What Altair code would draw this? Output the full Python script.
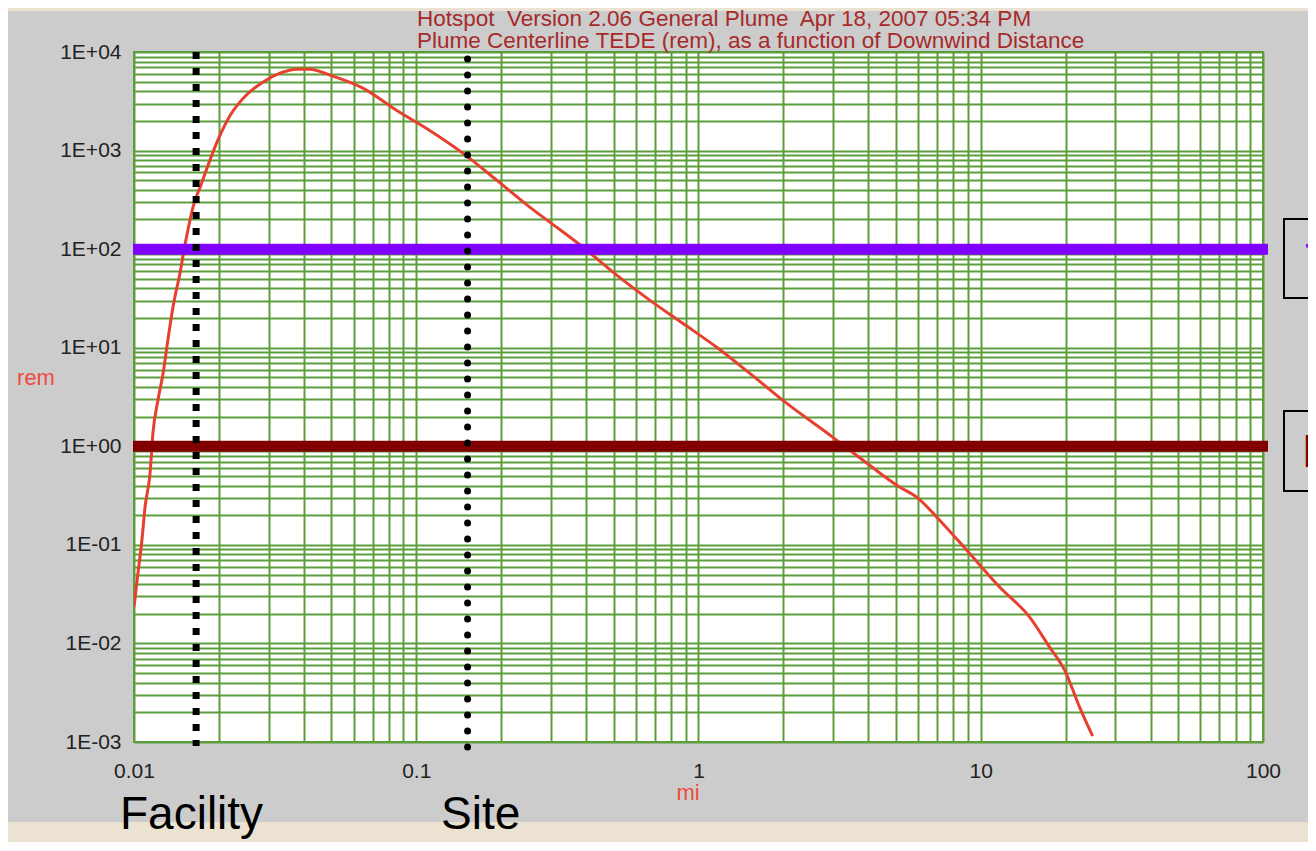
import json
import altair as alt
import pandas as pd

# ---- data ----
DIST_MI = [0.0100, 0.01033, 0.01067, 0.01094, 0.01140, 0.01167, 0.01216, 0.01268, 0.01318,
           0.01374, 0.01455, 0.01517, 0.01579, 0.01618, 0.01726, 0.01858, 0.01982, 0.02187,
           0.02512, 0.02862, 0.03290, 0.03778, 0.04198, 0.04943, 0.06471, 0.08534, 0.1116,
           0.1462, 0.1928, 0.2523, 0.2972, 0.3890, 0.5130, 0.6714, 0.8790, 1.160, 1.517,
           1.986, 2.985, 3.944, 5.157, 5.926, 7.150, 8.91, 11.66, 14.90, 17.53, 19.82,
           22.39, 24.90]
DOSE_REM = [0.0234, 0.0518, 0.112, 0.241, 0.535, 1.36, 2.94, 5.52, 11.9,
            25.8, 57.1, 112, 197, 267, 446, 800, 1274, 2250,
            3700, 4943, 6095, 6700, 6700, 5821, 4296, 2550, 1600,
            942, 501, 267, 188, 105, 54.5, 30.4, 17.7, 10.1, 5.52,
            2.94, 1.24, 0.676, 0.386, 0.305, 0.178, 0.0885, 0.0373, 0.0185, 0.00918, 0.00537,
            0.00226, 0.00115]

MARKER_NAMES = ["Facility", "Site"]
MARKER_DIST_MI = [0.0166, 0.152]

THRESHOLD_NAMES = ["T", "P"]
THRESHOLD_REM = [100, 1]
THRESHOLD_COLORS = ["#8000ff", "#800000"]

TITLE_LINES = ["Hotspot\u00a0 Version 2.06 General Plume\u00a0 Apr 18, 2007 05:34 PM",
               "Plume Centerline TEDE (rem), as a function of Downwind Distance"]

X_TICK_VALUES = [0.01, 0.1, 1, 10, 100]
X_TICK_LABELS = ["0.01", "0.1", "1", "10", "100"]
Y_TICK_VALUES = [0.001, 0.01, 0.1, 1, 10, 100, 1000, 10000]
Y_TICK_LABELS = ["1E-03", "1E-02", "1E-01", "1E+00", "1E+01", "1E+02", "1E+03", "1E+04"]

# grid lines at 1..9 x 10^k
X_GRID = [float(f"{k}e{e}") for e in range(-2, 2) for k in range(1, 10)] + [100.0]
Y_GRID = [float(f"{k}e{e}") for e in range(-3, 4) for k in range(1, 10)] + [10000.0]

FONT = "Liberation Sans"
GRID_GREEN = "#5c9e3c"
W, H = 1129, 690


def label_expr(vals, labels):
    v = json.dumps(vals)
    return f"indexof({v}, datum.value) >= 0 ? {json.dumps(labels)}[indexof({v}, datum.value)] : ''"


x_scale = alt.Scale(type="log", domain=[0.01, 100], nice=False)
y_scale = alt.Scale(type="log", domain=[0.001, 10000], nice=False)

x_axis = alt.Axis(values=X_GRID, labelExpr=label_expr(X_TICK_VALUES, X_TICK_LABELS), title=None,
                  grid=True, gridColor=GRID_GREEN, gridWidth=2, gridOpacity=1, ticks=False,
                  domain=False, labelFont=FONT, labelFontSize=21, labelColor="#222222",
                  labelPadding=18, labelFlush=False, labelOverlap=False, labelAngle=0)
y_axis = alt.Axis(values=Y_GRID, labelExpr=label_expr(Y_TICK_VALUES, Y_TICK_LABELS), title=None,
                  grid=True, gridColor=GRID_GREEN, gridWidth=2, gridOpacity=1, ticks=False,
                  domain=False, labelFont=FONT, labelFontSize=21, labelColor="#222222",
                  labelPadding=13, labelFlush=False, labelOverlap=False)

curve_df = pd.DataFrame({"mi": DIST_MI, "rem": DOSE_REM})
marker_df = pd.DataFrame({"name": MARKER_NAMES, "mi": MARKER_DIST_MI})
thr_df = pd.DataFrame({"name": THRESHOLD_NAMES, "rem": THRESHOLD_REM, "color": THRESHOLD_COLORS})
one = pd.DataFrame({"a": [0]})

# beige page strips around the grey panel
beige_bottom = alt.Chart(one).mark_rect(color="#ece2d2").encode(
    x=alt.value(-140), x2=alt.value(1200), y=alt.value(770), y2=alt.value(800))
beige_top = alt.Chart(one).mark_rect(color="#ece2d2").encode(
    x=alt.value(-140), x2=alt.value(1200), y=alt.value(-50), y2=alt.value(-41))

curve = alt.Chart(curve_df).mark_line(color="#e8402f", strokeWidth=3, clip=True,
                                      interpolate="monotone").encode(
    x=alt.X("mi:Q", scale=x_scale, axis=x_axis),
    y=alt.Y("rem:Q", scale=y_scale, axis=y_axis),
    order="mi:Q")

thresholds = alt.Chart(thr_df).mark_rule(strokeWidth=11).encode(
    y=alt.Y("rem:Q", scale=y_scale, axis=y_axis),
    x=alt.value(-1), x2=alt.value(W + 5),
    color=alt.Color("color:N", scale=None))

facility = alt.Chart(marker_df[marker_df.name == "Facility"]).mark_rule(
    color="black", strokeWidth=7, strokeDash=[7, 9]).encode(
    x=alt.X("mi:Q", scale=x_scale, axis=x_axis), y=alt.value(0), y2=alt.value(694))
site = alt.Chart(marker_df[marker_df.name == "Site"]).mark_rule(
    color="black", strokeWidth=7, strokeDash=[0.01, 15.99], strokeCap="round").encode(
    x=alt.X("mi:Q", scale=x_scale, axis=x_axis), y=alt.value(7), y2=alt.value(700))


def txt(text, x, y, size, color, align="left", baseline="alphabetic", **kw):
    return alt.Chart(one).mark_text(text=text, align=align, baseline=baseline, fontSize=size,
                                    font=FONT, color=color, **kw).encode(
        x=alt.value(x), y=alt.value(y))


title = txt(TITLE_LINES, 283, -26, 22.5, "#a62a2a", lineHeight=22)
rem_t = txt("rem", -98, 326, 22, "#ee4b3e", align="center", baseline="middle")
mi_t = txt("mi", 554, 741, 22, "#ee4b3e", align="center", baseline="middle")
fac_t = txt(MARKER_NAMES[0], -14, 777, 46, "black")
site_t = txt(MARKER_NAMES[1], 307, 777, 46, "black")

box1 = alt.Chart(one).mark_rect(fillOpacity=0, stroke="black", strokeWidth=2).encode(
    x=alt.value(1150), x2=alt.value(1220), y=alt.value(167), y2=alt.value(246))
box2 = alt.Chart(one).mark_rect(fillOpacity=0, stroke="black", strokeWidth=2).encode(
    x=alt.value(1150), x2=alt.value(1220), y=alt.value(359), y2=alt.value(439))
t_lbl = txt(THRESHOLD_NAMES[0], 1171, 224, 47, THRESHOLD_COLORS[0])
p_lbl = txt(THRESHOLD_NAMES[1], 1168, 415, 47, THRESHOLD_COLORS[1])

chart = alt.layer(
    beige_bottom, beige_top, curve, thresholds, facility, site,
    title, rem_t, mi_t, fac_t, site_t, box1, box2, t_lbl, p_lbl
).properties(
    width=W, height=H,
    padding={"left": 126, "top": 44, "right": 45, "bottom": 100},
    autosize=alt.AutoSizeParams(type="none"),
    background="#cccccc",
).configure_view(fill="white", stroke=GRID_GREEN, strokeWidth=2)

chart.save("out.html", embed_options={"renderer": "svg", "actions": False})
